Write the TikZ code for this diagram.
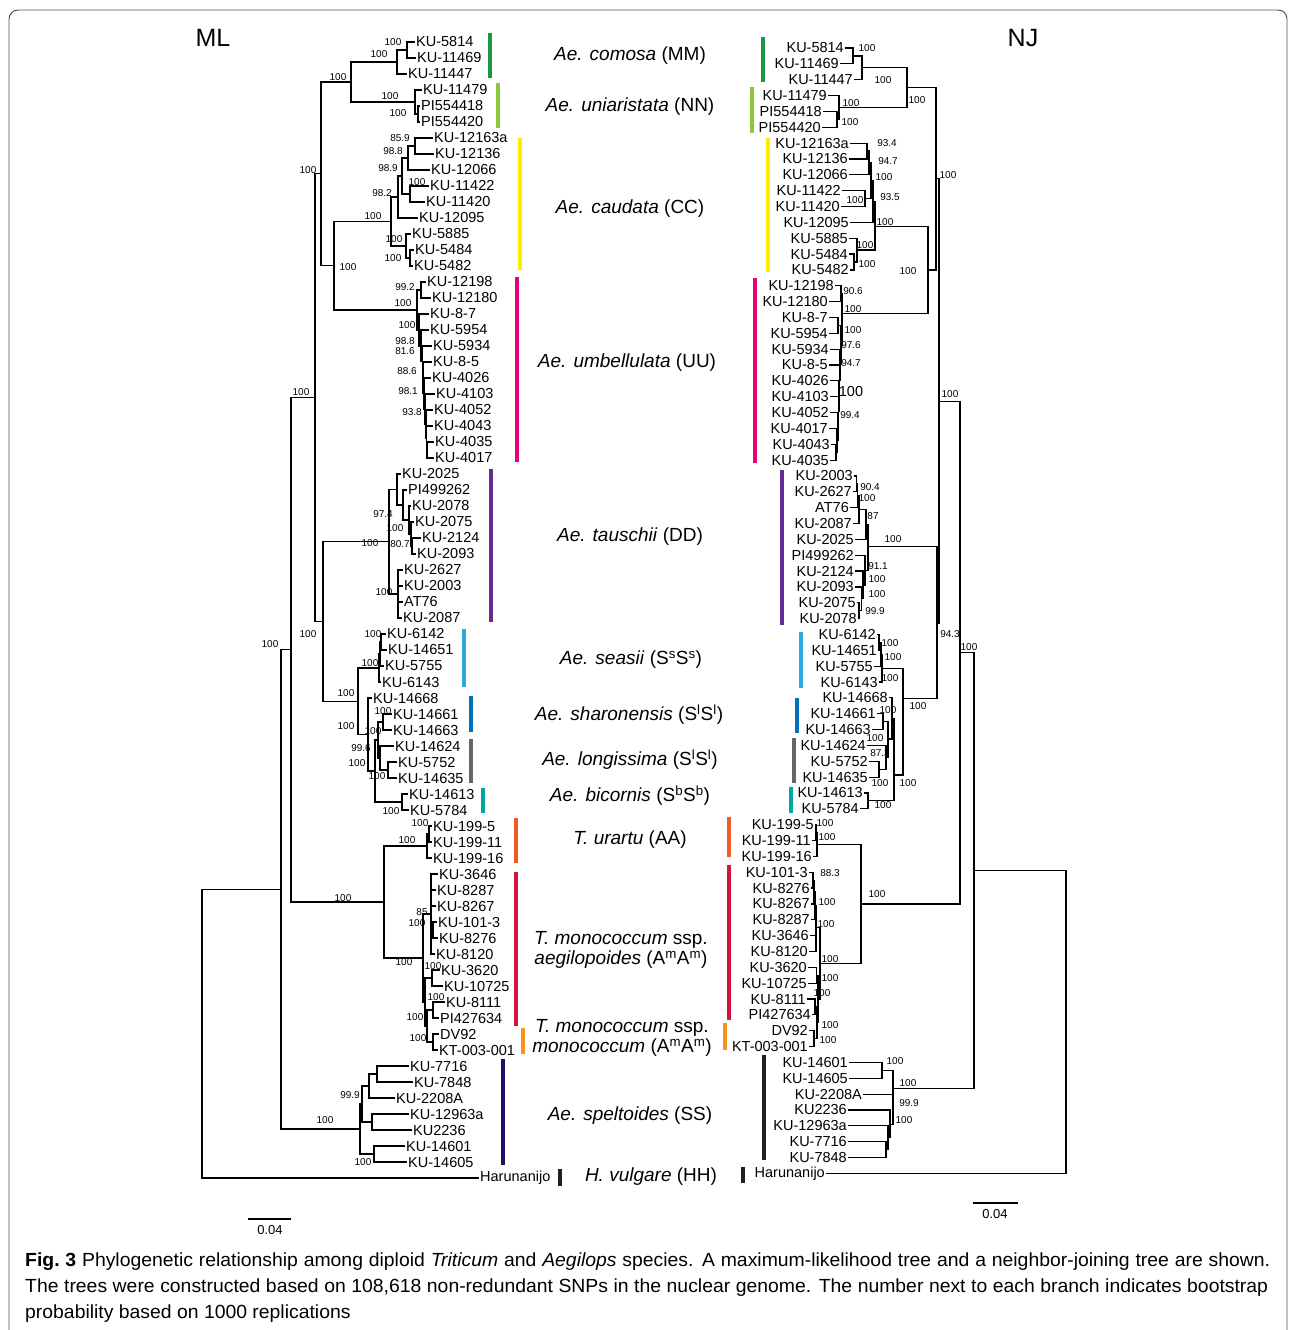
\documentclass[tikz,border=0pt]{standalone}
\usepackage{fontspec}
\setmainfont{Liberation Sans}
\newfontfamily\capfont[FakeStretch=1.02]{Liberation Sans}
\usetikzlibrary{calc}

\definecolor{cMM}{RGB}{26,150,65}
\definecolor{cNN}{RGB}{141,198,63}
\definecolor{cCC}{RGB}{255,237,0}
\definecolor{cUU}{RGB}{230,0,126}
\definecolor{cDD}{RGB}{102,45,145}
\definecolor{cSs}{RGB}{41,171,226}
\definecolor{cSh}{RGB}{0,113,188}
\definecolor{cLo}{RGB}{102,102,102}
\definecolor{cBi}{RGB}{0,169,157}
\definecolor{cAA}{RGB}{241,90,36}
\definecolor{cAe}{RGB}{212,20,60}
\definecolor{cMo}{RGB}{247,147,30}
\definecolor{cSS}{RGB}{27,20,100}
\definecolor{cHH}{RGB}{35,31,32}

\newcommand{\taxfont}{\fontsize{14.5}{16}\selectfont}
\tikzset{
  branch/.style={line width=1.2pt},
  mlleaf/.style={anchor=west, inner sep=1pt, font=\taxfont},
  njleaf/.style={anchor=east, inner sep=1pt, font=\taxfont},
  boot/.style={inner sep=0pt, font=\fontsize{10}{12}\selectfont},
  clade/.style={inner sep=0pt, align=center, font=\fontsize{19}{20.5}\selectfont},
  cbar/.style={line width=3.5pt},
  capline/.style={anchor=west, inner sep=0pt, font=\capfont\fontsize{19}{22}\selectfont},
}
% parent to each child, elbow branches
\newcommand{\clade}[2]{
  \foreach \ch in {#2}{
    \draw[branch] (#1) |- (\ch);
  }
}

\begin{document}
\begin{tikzpicture}[x=1pt, y=-1pt]
  \useasboundingbox (0,0) rectangle (1292,1330);
  \draw[rounded corners=9pt, line width=0.9pt, black!70] (9,10) rectangle (1287,1380);

  \node[font=\fontsize{25}{28}\selectfont] (hML) at (213,38) {ML};
  \node[font=\fontsize{25}{28}\selectfont] (hNJ) at (1023,38) {NJ};

  %% maximum-likelihood tree
  \begin{scope}[y=-16pt, yshift=-42pt]
    \foreach \n/\t/\s [count=\i from 0] in {
      m5814/415/KU-5814, m11469/416/KU-11469, m11447/407/KU-11447,
      m11479/422/KU-11479, m554418/420/PI554418, m554420/420/PI554420,
      m12163a/433/KU-12163a, m12136/434/KU-12136, m12066/430/KU-12066,
      m11422/429/KU-11422, m11420/425/KU-11420, m12095/418/KU-12095,
      m5885/411/KU-5885, m5484/414/KU-5484, m5482/413/KU-5482,
      m12198/426/KU-12198, m12180/431/KU-12180, m87/429/KU-8-7,
      m5954/429/KU-5954, m5934/432/KU-5934, m85/432/KU-8-5,
      m4026/431/KU-4026, m4103/435/KU-4103, m4052/433/KU-4052,
      m4043/433/KU-4043, m4035/434/KU-4035, m4017/434/KU-4017,
      m2025/401/KU-2025, m499262/407/PI499262, m2078/411/KU-2078,
      m2075/414/KU-2075, m2124/421/KU-2124, m2093/416/KU-2093,
      m2627/403/KU-2627, m2003/403/KU-2003, mAT76/403/AT76,
      m2087/402/KU-2087, m6142/386/KU-6142, m14651/387/KU-14651,
      m5755/384/KU-5755, m6143/381/KU-6143, m14668/372/KU-14668,
      m14661/392/KU-14661, m14663/392/KU-14663, m14624/394/KU-14624,
      m5752/397/KU-5752, m14635/397/KU-14635, m14613/408/KU-14613,
      m5784/409/KU-5784, m1995/432/KU-199-5, m19911/432/KU-199-11,
      m19916/432/KU-199-16, m3646/438/KU-3646, m8287/436/KU-8287,
      m8267/436/KU-8267, m1013/437/KU-101-3, m8276/438/KU-8276,
      m8120/435/KU-8120, m3620/440/KU-3620, m10725/443/KU-10725,
      m8111/445/KU-8111, m427634/439/PI427634, mDV92/439/DV92,
      mKT/438/KT-003-001, m7716/409/KU-7716, m7848/413/KU-7848,
      m2208A/395/KU-2208A, m12963a/409/KU-12963a, m2236/412/KU2236,
      m14601/405/KU-14601, m14605/407/KU-14605, mHaru/479/Harunanijo}
      \node[mlleaf] (\n) at (\t,\i) {\s};

    % M, N and C genomes
    \coordinate (mm1) at (407,0.5);
    \coordinate (mMM) at (397,1.25);
    \coordinate (nn1) at (418,4.5);
    \coordinate (mNN) at (415,3.75);
    \coordinate (mG) at (351,2.5);
    \coordinate (c1) at (415,6.5);
    \coordinate (c2) at (408,7.25);
    \coordinate (c4) at (410,9.5);
    \coordinate (c3) at (402,8.375);
    \coordinate (c5) at (398,9.69);
    \coordinate (c7) at (410,13.5);
    \coordinate (c6) at (406,12.75);
    \coordinate (mCC) at (391,11.22);
    % U genome
    \coordinate (u1) at (421,15.5);
    \coordinate (u9) at (427,25.5);
    \coordinate (u8) at (426.5,24.75);
    \coordinate (u7) at (426,23.875);
    \coordinate (u6) at (425,22.94);
    \coordinate (u5) at (424,21.97);
    \coordinate (u4) at (423,20.98);
    \coordinate (u3b) at (422.5,19.99);
    \coordinate (u3) at (421,19);
    \coordinate (u2) at (419,18);
    \coordinate (mUU) at (417,16.75);
    \coordinate (mH) at (334,13.98);
    \coordinate (mE) at (321,8.24);
    % D genome
    \coordinate (d4) at (412,31.5);
    \coordinate (d3) at (411,30.75);
    \coordinate (d2) at (409,29.875);
    \coordinate (d1) at (403,28.94);
    \coordinate (dU) at (397,27.97);
    \coordinate (dL) at (398,34.5);
    \coordinate (mDD) at (389,31.24);
    % S genomes
    \coordinate (s1) at (381,37.5);
    \coordinate (s2) at (380,38.25);
    \coordinate (mSs) at (379,39.125);
    \coordinate (sh1) at (383,42.5);
    \coordinate (lo1) at (388,45.5);
    \coordinate (lo0) at (380,44.75);
    \coordinate (sl) at (378,43.625);
    \coordinate (bi) at (402,47.5);
    \coordinate (sx) at (375,45.56);
    \coordinate (mSl) at (368,43.28);
    \coordinate (mS) at (358,41.2);
    \coordinate (mF) at (323,36.2);
    \coordinate (mD) at (315,22.2);
    % A genomes
    \coordinate (ur1) at (429,49.5);
    \coordinate (mAA) at (427,50.25);
    \coordinate (a1a) at (433,55.5);
    \coordinate (a1) at (431,54.5);
    \coordinate (a2) at (432,58.5);
    \coordinate (a3) at (433,60.5);
    \coordinate (a4) at (433,62.5);
    \coordinate (a6) at (427,61.5);
    \coordinate (a7) at (425,60);
    \coordinate (mAm) at (423,57.25);
    \coordinate (mT) at (384,53.75);
    \coordinate (mB) at (291,37.98);
    % speltoides and root
    \coordinate (e1) at (377,64.5);
    \coordinate (e2) at (369,65.25);
    \coordinate (e3) at (372,67.5);
    \coordinate (e4) at (362,66.375);
    \coordinate (e5) at (374,69.5);
    \coordinate (mSS) at (360,67.94);
    \coordinate (mA) at (281,52.96);
    \coordinate (mR) at (202,61.98);

    \clade{mm1}{m5814,m11469}
    \clade{mMM}{mm1,m11447}
    \clade{nn1}{m554418,m554420}
    \clade{mNN}{m11479,nn1}
    \clade{mG}{mMM,mNN}
    \clade{c1}{m12163a,m12136}
    \clade{c2}{c1,m12066}
    \clade{c4}{m11422,m11420}
    \clade{c3}{c2,c4}
    \clade{c5}{c3,m12095}
    \clade{c7}{m5484,m5482}
    \clade{c6}{m5885,c7}
    \clade{mCC}{c5,c6}
    \clade{u1}{m12198,m12180}
    \clade{u9}{m4035,m4017}
    \clade{u8}{m4043,u9}
    \clade{u7}{m4052,u8}
    \clade{u6}{m4103,u7}
    \clade{u5}{m4026,u6}
    \clade{u4}{m85,u5}
    \clade{u3b}{m5934,u4}
    \clade{u3}{m5954,u3b}
    \clade{u2}{m87,u3}
    \clade{mUU}{u1,u2}
    \clade{mH}{mCC,mUU}
    \clade{mE}{mG,mH}
    \clade{d4}{m2124,m2093}
    \clade{d3}{m2075,d4}
    \clade{d2}{m2078,d3}
    \clade{d1}{m499262,d2}
    \clade{dU}{m2025,d1}
    \clade{dL}{m2627,m2003,mAT76,m2087}
    \clade{mDD}{dU,dL}
    \clade{s1}{m6142,m14651}
    \clade{s2}{s1,m5755}
    \clade{mSs}{s2,m6143}
    \clade{sh1}{m14661,m14663}
    \clade{lo1}{m5752,m14635}
    \clade{lo0}{m14624,lo1}
    \clade{sl}{sh1,lo0}
    \clade{bi}{m14613,m5784}
    \clade{sx}{sl,bi}
    \clade{mSl}{m14668,sx}
    \clade{mS}{mSs,mSl}
    \clade{mF}{mDD,mS}
    \clade{mD}{mE,mF}
    \clade{ur1}{m1995,m19911}
    \clade{mAA}{ur1,m19916}
    \clade{a1a}{m1013,m8276}
    \clade{a1}{m3646,m8287,m8267,a1a,m8120}
    \clade{a2}{m3620,m10725}
    \clade{a3}{m8111,m427634}
    \clade{a4}{mDV92,mKT}
    \clade{a6}{a3,a4}
    \clade{a7}{a2,a6}
    \clade{mAm}{a1,a7}
    \clade{mT}{mAA,mAm}
    \clade{mB}{mD,mT}
    \clade{e1}{m7716,m7848}
    \clade{e2}{e1,m2208A}
    \clade{e3}{m12963a,m2236}
    \clade{e4}{e2,e3}
    \clade{e5}{m14601,m14605}
    \clade{mSS}{e4,e5}
    \clade{mA}{mB,mSS}
    \clade{mR}{mA,mHaru}
  \end{scope}

  %% neighbor-joining tree
  \begin{scope}[y=-15.85pt, yshift=-48pt]
    \foreach \n/\t/\s [count=\i from 0] in {
      n5814/845/KU-5814, n11469/840/KU-11469, n11447/854/KU-11447,
      n11479/828/KU-11479, n554418/823/PI554418, n554420/822/PI554420,
      n12163a/850/KU-12163a, n12136/849/KU-12136, n12066/849/KU-12066,
      n11422/842/KU-11422, n11420/841/KU-11420, n12095/850/KU-12095,
      n5885/849/KU-5885, n5484/849/KU-5484, n5482/850/KU-5482,
      n12198/835/KU-12198, n12180/829/KU-12180, n87/829/KU-8-7,
      n5954/829/KU-5954, n5934/830/KU-5934, n85/829/KU-8-5,
      n4026/830/KU-4026, n4103/830/KU-4103, n4052/830/KU-4052,
      n4017/829/KU-4017, n4043/831/KU-4043, n4035/830/KU-4035,
      n2003/854/KU-2003, n2627/853/KU-2627, nAT76/850/AT76,
      n2087/853/KU-2087, n2025/855/KU-2025, n499262/855/PI499262,
      n2124/855/KU-2124, n2093/855/KU-2093, n2075/857/KU-2075,
      n2078/858/KU-2078, n6142/877/KU-6142, n14651/878/KU-14651,
      n5755/874/KU-5755, n6143/879/KU-6143, n14668/889/KU-14668,
      n14661/877/KU-14661, n14663/872/KU-14663, n14624/867/KU-14624,
      n5752/869/KU-5752, n14635/869/KU-14635, n14613/864/KU-14613,
      n5784/860/KU-5784, n1995/815/KU-199-5, n19911/812/KU-199-11,
      n19916/813/KU-199-16, n1013/809/KU-101-3, n8276/811/KU-8276,
      n8267/811/KU-8267, n8287/811/KU-8287, n3646/810/KU-3646,
      n8120/809/KU-8120, n3620/808/KU-3620, n10725/808/KU-10725,
      n8111/807/KU-8111, n427634/812/PI427634, nDV92/809/DV92,
      nKT/809/KT-003-001, n14601/849/KU-14601, n14605/849/KU-14605,
      n2208A/863/KU-2208A, n2236/848/KU2236, n12963a/848/KU-12963a,
      n7716/848/KU-7716, n7848/848/KU-7848, nHaru/826/Harunanijo}
      \node[njleaf] (\n) at (\t,\i) {\s};

    \coordinate (na) at (853,0.5);
    \coordinate (nMM) at (862,1.25);
    \coordinate (nn1) at (837,4.5);
    \coordinate (nNN) at (839,3.75);
    \coordinate (nG) at (907,2.5);
    \coordinate (nc1) at (867,6.5);
    \coordinate (nc2) at (869,7.25);
    \coordinate (nc4) at (865,9.5);
    \coordinate (nc3) at (871,8.375);
    \coordinate (nc5) at (873,9.69);
    \coordinate (nc7) at (854,13.5);
    \coordinate (nc6) at (857,12.75);
    \coordinate (nCC) at (875,11.27);
    \coordinate (nu1) at (841,15.5);
    \coordinate (nu9) at (836,25.5);
    \coordinate (nu8) at (837,24.75);
    \coordinate (nu7) at (838,23.875);
    \coordinate (nu6) at (838.5,22.94);
    \coordinate (nu5) at (839,21.97);
    \coordinate (nu4) at (839.5,20.98);
    \coordinate (nu3) at (840,19.99);
    \coordinate (nu2) at (838,17.5);
    \coordinate (nu2b) at (841,18.75);
    \coordinate (nUU) at (842,16.74);
    \coordinate (nH) at (928,14);
    \coordinate (nE) at (936,8.25);
    \coordinate (nd0) at (856.7,27.5);
    \coordinate (nd1) at (857.5,28.25);
    \coordinate (nd2) at (859,29.125);
    \coordinate (nd3) at (866,30.06);
    \coordinate (nd5) at (859,35.5);
    \coordinate (nd6) at (861.5,34.75);
    \coordinate (nd7) at (863,33.875);
    \coordinate (nd8) at (865,32.94);
    \coordinate (nDD) at (868,31.46);
    \coordinate (ns1) at (879,37.5);
    \coordinate (ns2) at (881,38.25);
    \coordinate (nSs) at (882,39.125);
    \coordinate (nsh) at (883,42.5);
    \coordinate (nlo1) at (879,45.5);
    \coordinate (nlo0) at (886,44.75);
    \coordinate (nshlo) at (888,43.6);
    \coordinate (nsl2) at (892,42.3);
    \coordinate (nbi) at (868,47.5);
    \coordinate (nsl) at (894,45.87);
    \coordinate (nS) at (903,41.03);
    \coordinate (nF) at (937,36.28);
    \coordinate (nE2) at (939,22.3);
    \coordinate (nur1) at (816,49.5);
    \coordinate (nAA) at (817,50.25);
    \coordinate (na0) at (813,52.5);
    \coordinate (na1) at (814,53.25);
    \coordinate (na2) at (815,54.1);
    \coordinate (na3) at (816,55.5);
    \coordinate (na4) at (816.5,58.5);
    \coordinate (na5) at (815,60.5);
    \coordinate (na6) at (814,62.5);
    \coordinate (na7) at (817,61.5);
    \coordinate (na8) at (818,60);
    \coordinate (nAm) at (820,57.75);
    \coordinate (nT) at (861,54);
    \coordinate (nC) at (960,38.15);
    \coordinate (ne1) at (882,64.5);
    \coordinate (ne5) at (886,69.5);
    \coordinate (ne4) at (888,68.75);
    \coordinate (ne3) at (890,67.9);
    \coordinate (nSS) at (893,65.63);
    \coordinate (nB) at (974,51.9);
    \coordinate (nR) at (1066,61.5);

    \clade{na}{n5814,n11469}
    \clade{nMM}{na,n11447}
    \clade{nn1}{n554418,n554420}
    \clade{nNN}{n11479,nn1}
    \clade{nG}{nMM,nNN}
    \clade{nc1}{n12163a,n12136}
    \clade{nc2}{nc1,n12066}
    \clade{nc4}{n11422,n11420}
    \clade{nc3}{nc2,nc4}
    \clade{nc5}{nc3,n12095}
    \clade{nc7}{n5484,n5482}
    \clade{nc6}{n5885,nc7}
    \clade{nCC}{nc5,nc6}
    \clade{nu1}{n12198,n12180}
    \clade{nu9}{n4043,n4035}
    \clade{nu8}{n4017,nu9}
    \clade{nu7}{n4052,nu8}
    \clade{nu6}{n4103,nu7}
    \clade{nu5}{n4026,nu6}
    \clade{nu4}{n85,nu5}
    \clade{nu3}{n5934,nu4}
    \clade{nu2}{n87,n5954}
    \clade{nu2b}{nu2,nu3}
    \clade{nUU}{nu1,nu2b}
    \clade{nH}{nCC,nUU}
    \clade{nE}{nG,nH}
    \clade{nd0}{n2003,n2627}
    \clade{nd1}{nd0,nAT76}
    \clade{nd2}{nd1,n2087}
    \clade{nd3}{nd2,n2025}
    \clade{nd5}{n2075,n2078}
    \clade{nd6}{n2093,nd5}
    \clade{nd7}{n2124,nd6}
    \clade{nd8}{n499262,nd7}
    \clade{nDD}{nd3,nd8}
    \clade{ns1}{n6142,n14651}
    \clade{ns2}{ns1,n5755}
    \clade{nSs}{ns2,n6143}
    \clade{nsh}{n14661,n14663}
    \clade{nlo1}{n5752,n14635}
    \clade{nlo0}{n14624,nlo1}
    \clade{nshlo}{nsh,nlo0}
    \clade{nsl2}{n14668,nshlo}
    \clade{nbi}{n14613,n5784}
    \clade{nsl}{nsl2,nbi}
    \clade{nS}{nSs,nsl}
    \clade{nF}{nDD,nS}
    \clade{nE2}{nE,nF}
    \clade{nur1}{n1995,n19911}
    \clade{nAA}{nur1,n19916}
    \clade{na0}{n1013,n8276}
    \clade{na1}{na0,n8267}
    \clade{na2}{na1,n8287}
    \clade{na3}{na2,n3646,n8120}
    \clade{na4}{n3620,n10725}
    \clade{na5}{n8111,n427634}
    \clade{na6}{nDV92,nKT}
    \clade{na7}{na5,na6}
    \clade{na8}{na4,na7}
    \clade{nAm}{na3,na8}
    \clade{nT}{nAA,nAm}
    \clade{nC}{nE2,nT}
    \clade{ne1}{n14601,n14605}
    \clade{ne5}{n7716,n7848}
    \clade{ne4}{n12963a,ne5}
    \clade{ne3}{n2236,ne4}
    \clade{nSS}{ne1,n2208A,ne3}
    \clade{nB}{nC,nSS}
    \clade{nR}{nB,nHaru}
  \end{scope}

  %% bootstrap values
  \foreach \x/\y/\v [count=\k] in {
    393/42/100, 379/54/100, 338/77/100, 390/96/100, 398/113/100,
    400/138/85.9, 393/151/98.8, 388/168/98.9, 417/182/100, 382/193/98.2,
    373/216/100, 394/239/100, 393/258/100, 308/170/100, 348/267/100,
    405/287/99.2, 403/303/100, 407/325/100, 405/341/98.8, 405/351/81.6,
    407/371/88.6, 408/391/98.1, 412/412/93.8, 301/392/100,
    383/514/97.4, 395/528/100, 400/544/80.7, 370/543/100, 384/592/100,
    308/634/100, 270/644/100, 346/693/100, 370/663/100, 373/634/100,
    383/711/100, 373/731/100, 346/726/100, 361/748/99.6, 357/763/100,
    377/776/100, 391/811/100, 420/823/100, 407/840/100, 343/898/100,
    422/912/85, 417/923/100, 404/962/100, 433/966/100, 436/997/100,
    415/1017/100, 418/1038/100, 350/1095/99.9, 363/1162/100, 325/1120/100}
    \node[boot] (mb\k) at (\x,\y) {\v};
  \foreach \x/\y/\v [count=\k] in {
    867/48/100, 883/80/100, 917/100/100, 851/103/100, 850/122/100,
    887/143/93.4, 888/161/94.7, 884/177/100, 855/200/100, 890/197/93.5,
    885/222/100, 865/245/100, 867/264/100, 908/271/100, 948/175/100,
    853/291/90.6, 853/309/100, 853/330/100, 851/345/97.6, 851/363/94.7,
    850/415/99.4, 950/394/100, 870/487/90.4, 867/498/100, 873/516/87,
    893/539/100, 878/566/91.1, 877/579/100, 877/594/100, 875/611/99.9,
    950/634/94.3, 890/643/100, 893/657/100, 890/678/100, 918/706/100,
    888/710/100, 875/738/100, 880/753/87.3, 880/783/100, 908/783/100,
    883/805/100, 969/647/100, 825/823/100, 827/837/100, 830/873/88.3,
    827/902/100, 826/924/100, 877/894/100, 830/959/100, 830/978/100,
    822/993/100, 830/1025/100, 828/1040/100, 895/1061/100, 908/1083/100,
    909/1103/99.9, 904/1120/100}
    \node[boot] (nb\k) at (\x,\y) {\v};
  \node[inner sep=0pt, font=\taxfont] (nbig) at (851,392) {100};

  %% genome bars
  \foreach \x/\a/\b/\c in {
    490/33/78/cMM, 498/83/128/cNN, 520/138/270/cCC, 517/277/462/cUU,
    491/469/622/cDD, 464/629/687/cSs, 471/696/732/cSh, 471/739/783/cLo,
    483/788/813/cBi, 516/818/863/cAA, 516/872/1026/cAe, 523/1028/1054/cMo,
    503/1059/1165/cSS, 560/1169/1186/cHH,
    763/37/82/cMM, 752/87/133/cNN, 768/138/272/cCC, 755/278/463/cUU,
    782/470/625/cDD, 801/632/688/cSs, 797/698/733/cSh, 794/738/783/cLo,
    791/787/813/cBi, 729/817/857/cAA, 729/865/1020/cAe, 725/1023/1050/cMo,
    764/1055/1160/cHH, 743/1167/1183/cHH}
    \draw[cbar,\c] (\x,\a) -- (\x,\b);

  %% species names
  \node[clade] (tMM) at (630,56) {\textit{Ae. comosa} (MM)};
  \node[clade] (tNN) at (630,107) {\textit{Ae. uniaristata} (NN)};
  \node[clade] (tCC) at (630,209) {\textit{Ae. caudata} (CC)};
  \node[clade] (tUU) at (627,363) {\textit{Ae. umbellulata} (UU)};
  \node[clade] (tDD) at (630,537) {\textit{Ae. tauschii} (DD)};
  \node[clade] (tSs) at (631,660) {\textit{Ae. seasii} (S\textsuperscript{s}S\textsuperscript{s})};
  \node[clade] (tSh) at (629,715) {\textit{Ae. sharonensis} (S\textsuperscript{l}S\textsuperscript{l})};
  \node[clade] (tLo) at (630,760) {\textit{Ae. longissima} (S\textsuperscript{l}S\textsuperscript{l})};
  \node[clade] (tBi) at (630,796) {\textit{Ae. bicornis} (S\textsuperscript{b}S\textsuperscript{b})};
  \node[clade] (tAA) at (630,840) {\textit{T. urartu} (AA)};
  \node[clade] (tAe) at (621,950) {\textit{T. monococcum} ssp.\\\textit{aegilopoides} (A\textsuperscript{m}A\textsuperscript{m})};
  \node[clade] (tMo) at (622,1038) {\textit{T. monococcum} ssp.\\\textit{monococcum} (A\textsuperscript{m}A\textsuperscript{m})};
  \node[clade] (tSS) at (630,1116) {\textit{Ae. speltoides} (SS)};
  \node[clade] (tHH) at (651,1177) {\textit{H. vulgare} (HH)};

  %% scale bars
  \draw[branch] (248,1219) -- (291,1219);
  \node[font=\fontsize{13}{15}\selectfont] (sML) at (270,1230) {0.04};
  \draw[branch] (973,1203) -- (1018,1203);
  \node[font=\fontsize{13}{15}\selectfont] (sNJ) at (995,1214) {0.04};

  %% caption
  \node[capline] (cap1) at (25,1262) {\makebox[1245pt][s]{\textbf{Fig.~3} Phylogenetic relationship among diploid \textit{Triticum} and \textit{Aegilops} species. A maximum-likelihood tree and a neighbor-joining tree are shown.}};
  \node[capline] (cap2) at (25,1288) {\makebox[1243pt][s]{The trees were constructed based on 108,618 non-redundant SNPs in the nuclear genome. The number next to each branch indicates bootstrap}};
  \node[capline] (cap3) at (25,1314) {probability based on 1000 replications};
\end{tikzpicture}
\end{document}
